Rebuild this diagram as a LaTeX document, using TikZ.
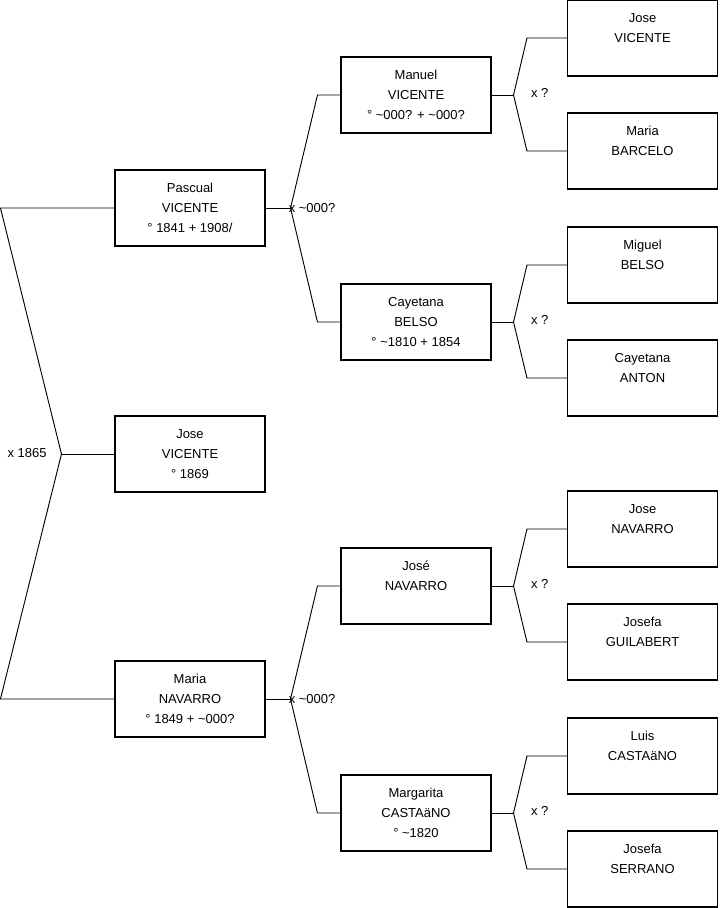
\documentclass[tikz,border=0pt]{standalone}
\usepackage{fontspec}
\setmainfont{Liberation Sans}

\begin{document}
\begin{tikzpicture}[x=0.75pt, y=-0.75pt, every node/.style={font=\fontsize{9.75pt}{15pt}\selectfont}, person/.style={draw, line width=0.8pt, align=center, minimum width=112.5pt, minimum height=57pt, inner sep=0pt}, link/.style={line width=0.7pt}, mar/.style={anchor=west, inner sep=0pt}]
\useasboundingbox (0,0) rectangle (719,908);
% generation 1 and 2
\node[person] (pascual) at (190,208) {\strut Pascual\\VICENTE\\° 1841 + 1908/\strut};
\node[person] (jose) at (190,454) {\strut Jose\\VICENTE\\° 1869\strut};
\node[person] (maria) at (190,699) {\strut Maria\\NAVARRO\\° 1849 + \textasciitilde 000?\strut};
% generation 3
\node[person] (manuel) at (416,95) {\strut Manuel\\VICENTE\\° \textasciitilde 000? + \textasciitilde 000?\strut};
\node[person] (cayetana) at (416,322) {\strut Cayetana\\BELSO\\° \textasciitilde 1810 + 1854\strut};
\node[person] (josenav) at (416,586) {\strut José\\NAVARRO\\\strut};
\node[person] (margarita) at (416,813) {\strut Margarita\\CASTAäNO\\° \textasciitilde 1820\strut};
% generation 4
\node[person] (josevic) at (642.5,38) {\strut Jose\\VICENTE\\\strut};
\node[person] (mariabar) at (642.5,151) {\strut Maria\\BARCELO\\\strut};
\node[person] (miguel) at (642.5,265) {\strut Miguel\\BELSO\\\strut};
\node[person] (cayant) at (642.5,378) {\strut Cayetana\\ANTON\\\strut};
\node[person] (josenav2) at (642.5,529) {\strut Jose\\NAVARRO\\\strut};
\node[person] (josefag) at (642.5,642) {\strut Josefa\\GUILABERT\\\strut};
\node[person] (luis) at (642.5,756) {\strut Luis\\CASTAäNO\\\strut};
\node[person] (josefas) at (642.5,869) {\strut Josefa\\SERRANO\\\strut};
% marriages
\draw[link] (jose.west) -- ++(-53,0) coordinate (j0);
\draw[link] (pascual.west) -- ++(-114,0) -- (j0); \draw[link] (maria.west) -- ++(-114,0) -- (j0);
\draw[link] (pascual.east) -- ++(25,0) coordinate (j1); \draw[link] (manuel.west) -- ++(-23,0) -- (j1); \draw[link] (cayetana.west) -- ++(-23,0) -- (j1);
\draw[link] (maria.east) -- ++(25,0) coordinate (j2); \draw[link] (josenav.west) -- ++(-23,0) -- (j2); \draw[link] (margarita.west) -- ++(-23,0) -- (j2);
\draw[link] (manuel.east) -- ++(22,0) coordinate (j3); \draw[link] (josevic.west) -- ++(-40,0) -- (j3); \draw[link] (mariabar.west) -- ++(-40,0) -- (j3);
\draw[link] (cayetana.east) -- ++(22,0) coordinate (j4); \draw[link] (miguel.west) -- ++(-40,0) -- (j4); \draw[link] (cayant.west) -- ++(-40,0) -- (j4);
\draw[link] (josenav.east) -- ++(22,0) coordinate (j5); \draw[link] (josenav2.west) -- ++(-40,0) -- (j5); \draw[link] (josefag.west) -- ++(-40,0) -- (j5);
\draw[link] (margarita.east) -- ++(22,0) coordinate (j6); \draw[link] (luis.west) -- ++(-40,0) -- (j6); \draw[link] (josefas.west) -- ++(-40,0) -- (j6);
\node[anchor=east, inner sep=0pt] (m0) at ([xshift=-11pt, yshift=1pt]j0) {x 1865};
\node[mar] (m1) at ([xshift=-1.5pt]j1) {x \textasciitilde 000?};
\node[mar] (m2) at ([xshift=-1.5pt]j2) {x \textasciitilde 000?};
\node[mar] (m3) at ([xshift=13pt, yshift=1.5pt]j3) {x ?};
\node[mar] (m4) at ([xshift=13pt, yshift=1.5pt]j4) {x ?};
\node[mar] (m5) at ([xshift=13pt, yshift=1.5pt]j5) {x ?};
\node[mar] (m6) at ([xshift=13pt, yshift=1.5pt]j6) {x ?};
\end{tikzpicture}
\end{document}
